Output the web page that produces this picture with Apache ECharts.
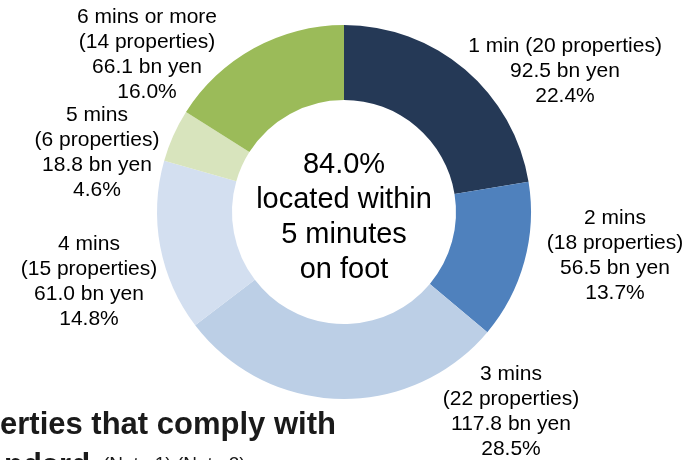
<!DOCTYPE html>
<html>
<head>
<meta charset="utf-8">
<script src="https://cdn.jsdelivr.net/npm/echarts@6/dist/echarts.min.js"></script>
<style>
html,body{margin:0;padding:0;background:#fff;}
#chart{width:692px;height:460px;}
</style>
</head>
<body>
<div id="chart"></div>
<script>
// Data
const categories = ['1 min', '2 mins', '3 mins', '4 mins', '5 mins', '6 mins or more'];
const propertyCounts = [20, 18, 22, 15, 6, 14];
const amountsBnYen = [92.5, 56.5, 117.8, 61.0, 18.8, 66.1];
const sharesPct = ['22.4%', '13.7%', '28.5%', '14.8%', '4.6%', '16.0%'];
const centerLines = ['84.0%', 'located within', '5 minutes', 'on foot'];
const footLine1 = 'erties that comply with';
const footLine2Bold = 'ndard';
const footLine2Note = '(Note 1) (Note 2)';

// Styles / layout (not data)
const colors = ['#253956', '#4f81bd', '#bccfe6', '#d3dff0', '#d8e4bd', '#9bbb59'];
const labelPos = [[565, 71], [615, 256], [511, 412], [89, 282], [97, 153], [147, 55]];

function labelText(i) {
  const n = propertyCounts[i];
  const c = categories[i];
  const amt = amountsBnYen[i].toFixed(1) + ' bn yen';
  if (i === 0) {
    return c + ' (' + n + ' properties)\n' + amt + '\n' + sharesPct[i];
  }
  return c + '\n(' + n + ' properties)\n' + amt + '\n' + sharesPct[i];
}

const chart = echarts.init(document.getElementById('chart'), null, {renderer: 'canvas'});
chart.setOption({
  animation: false,
  backgroundColor: '#ffffff',
  color: colors,
  graphic: [
    {
      type: 'text', z: 100,
      style: {
        text: centerLines.join('\n'),
        x: 344, y: 217,
        align: 'center', verticalAlign: 'middle',
        font: '29px "Liberation Sans", Arial, sans-serif',
        lineHeight: 35,
        fill: '#000'
      }
    },
    {
      type: 'text', z: 100,
      style: {
        text: footLine1, x: 0, y: 410,
        verticalAlign: 'top',
        font: 'bold 31px "Liberation Sans", Arial, sans-serif',
        fill: '#1a1a1a'
      }
    },
    {
      type: 'text', z: 100,
      style: {
        text: footLine2Bold, x: 4, y: 451,
        verticalAlign: 'top',
        font: 'bold 31px "Liberation Sans", Arial, sans-serif',
        fill: '#1a1a1a'
      }
    },
    {
      type: 'text', z: 100,
      style: {
        text: footLine2Note, x: 103, y: 455,
        verticalAlign: 'top',
        font: '19px "Liberation Sans", Arial, sans-serif',
        fill: '#1a1a1a'
      }
    }
  ],
  series: [{
    type: 'pie',
    center: [344, 212],
    radius: [112, 187],
    startAngle: 90,
    clockwise: true,
    avoidLabelOverlap: false,
    itemStyle: {borderWidth: 0},
    emphasis: {disabled: true},
    label: {
      show: true,
      position: 'outside',
      formatter: function (p) { return labelText(p.dataIndex); },
      fontFamily: '"Liberation Sans", Arial, sans-serif',
      fontSize: 21,
      lineHeight: 25,
      color: '#000',
      align: 'center'
    },
    labelLine: {show: false},
    labelLayout: function (params) {
      const p = labelPos[params.dataIndex];
      return {x: p[0], y: p[1], align: 'center', verticalAlign: 'middle', hideOverlap: false};
    },
    data: categories.map(function (c, i) { return {name: c, value: amountsBnYen[i]}; })
  }]
});
</script>
</body>
</html>
